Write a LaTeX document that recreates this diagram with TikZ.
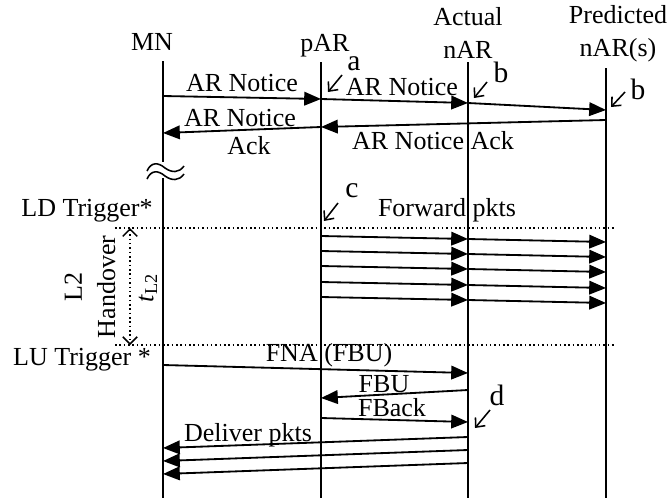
\documentclass[tikz,border=0pt]{standalone}
\usepackage{fontspec}
\setmainfont{Liberation Serif}
\usetikzlibrary{arrows.meta}

\tikzset{
  life/.style={line width=1.3pt},
  msg/.style={line width=1.3pt, -{Triangle[length=4.2mm,width=3.4mm]}},
  tag/.style={inner sep=1pt, font=\fontsize{21}{25}\selectfont},
  tagarr/.style={line width=1.1pt, -{Straight Barb[length=1.8mm,width=3.2mm]}},
  guide/.style={line width=1.1pt, dotted},
  barb/.style={{Straight Barb[length=1.8mm,width=3.6mm]}-{Straight Barb[length=1.8mm,width=3.6mm]}},
}

\begin{document}
\begin{tikzpicture}[x=0.025cm, y=-0.025cm, font=\fontsize{18.5}{23.5}\selectfont]
    \useasboundingbox (0,0) rectangle (669,501);
    % lifelines
    \coordinate (MN) at (163,0);
    \coordinate (pAR) at (321,0);
    \coordinate (nAR) at (468,0);
    \coordinate (pnAR) at (606,0);
    \node (mnlab) at (152,42) {MN};
    \node (parlab) at (325,46) {pAR};
    \node[align=center] (narlab) at (468,33) {Actual\\nAR};
    \node[align=center] (pnarlab) at (618,34) {Predicted\\nAR(s)};
    \draw[life] (MN |- 0,61) -- (MN |- 0,162);
    \draw[life] (MN |- 0,178) -- (MN |- 0,498);
    \draw[life] (pAR |- 0,62) -- (pAR |- 0,498);
    \draw[life] (nAR |- 0,62) -- (nAR |- 0,498);
    \draw[life] (pnAR |- 0,68) -- (pnAR |- 0,498);
    % break on MN
    \draw[line width=1.1pt] (147,171) .. controls (151,162) and (158,162) .. (165,168) .. controls (172,173) and (179,173) .. (184,166);
    \draw[line width=1.1pt] (147,179) .. controls (151,170) and (158,170) .. (165,176) .. controls (172,181) and (179,181) .. (184,174);

    % AR notices
    \draw[msg] (MN |- 0,96) -- (pAR |- 0,99) node[midway, above] (n1) {AR Notice};
    \draw[msg] (pAR |- 0,99) -- (nAR |- 0,103) node[pos=0.55, above] (n2) {AR Notice};
    \draw[msg] (nAR |- 0,103) -- (pnAR |- 0,110);
    \draw[msg] (pnAR |- 0,120) -- (pAR |- 0,127);
    \node (ack1) at (433,141) {AR Notice Ack};
    \draw[msg] (pAR |- 0,127) -- (MN |- 0,133);
    \node (ack2a) at (240,118) {AR Notice};
    \node (ack2b) at (249,146) {Ack};

    \node[tag] (ta) at (354,64) {a};
    \coordinate (ta0) at (342,75); \coordinate (ta1) at (328,92);
    \draw[tagarr] (ta0) -- (ta1);
    \node[tag] (tb1) at (501,72) {b};
    \coordinate (tb10) at (487,82); \coordinate (tb11) at (474,98);
    \draw[tagarr] (tb10) -- (tb11);
    \node[tag] (tb2) at (638,89) {b};
    \coordinate (tb20) at (625,92); \coordinate (tb21) at (611,107);
    \draw[tagarr] (tb20) -- (tb21);

    % L2 handover
    \node (ldt) at (87,211) {LD Trigger*};
    \node (lut) at (82,360) {LU Trigger *};
    \coordinate (ld) at (130,228);
    \coordinate (lu) at (130,345);
    \draw[guide] (ld -| 115,0) -- (ld -| 615,0);
    \draw[guide] (lu -| 115,0) -- (lu -| 615,0);
    \draw[guide, barb] (ld) -- (lu);
    \node[rotate=90, align=center] (l2h) at (90,287) {L2\\Handover};
    \node[rotate=90] (tl2) at (148,288) {\textit{t}\textsubscript{L2}};

    % forwarding
    \node[tag] (tc) at (352,191) {c};
    \coordinate (tc0) at (338,203); \coordinate (tc1) at (324,221);
    \draw[tagarr] (tc0) -- (tc1);
    \node (fwd) at (447,210) {Forward pkts};
    \foreach \y [evaluate=\y as \ya using \y+3, evaluate=\y as \yb using \y+6] in {236,251,266,282,297} {
        \draw[msg] (pAR |- 0,\y) -- (nAR |- 0,\ya);
        \draw[msg] (nAR |- 0,\ya) -- (pnAR |- 0,\yb);
    }

    % after LU trigger
    \draw[msg] (MN |- 0,365) -- (nAR |- 0,373);
    \node (fna) at (329,355) {FNA (FBU)};
    \draw[msg] (nAR |- 0,390) -- (pAR |- 0,398);
    \node (fbu) at (384,384) {FBU};
    \draw[msg] (pAR |- 0,418) -- (nAR |- 0,422);
    \node (fback) at (392,408) {FBack};
    \node[tag] (td) at (497,395) {d};
    \coordinate (td0) at (490,410); \coordinate (td1) at (475,428);
    \draw[tagarr] (td0) -- (td1);
    \node (dlv) at (248,435) {Deliver pkts};
    \foreach \y [evaluate=\y as \ya using \y+11] in {437,450,463}
        \draw[msg] (nAR |- 0,\y) -- (MN |- 0,\ya);
\end{tikzpicture}
\end{document}
